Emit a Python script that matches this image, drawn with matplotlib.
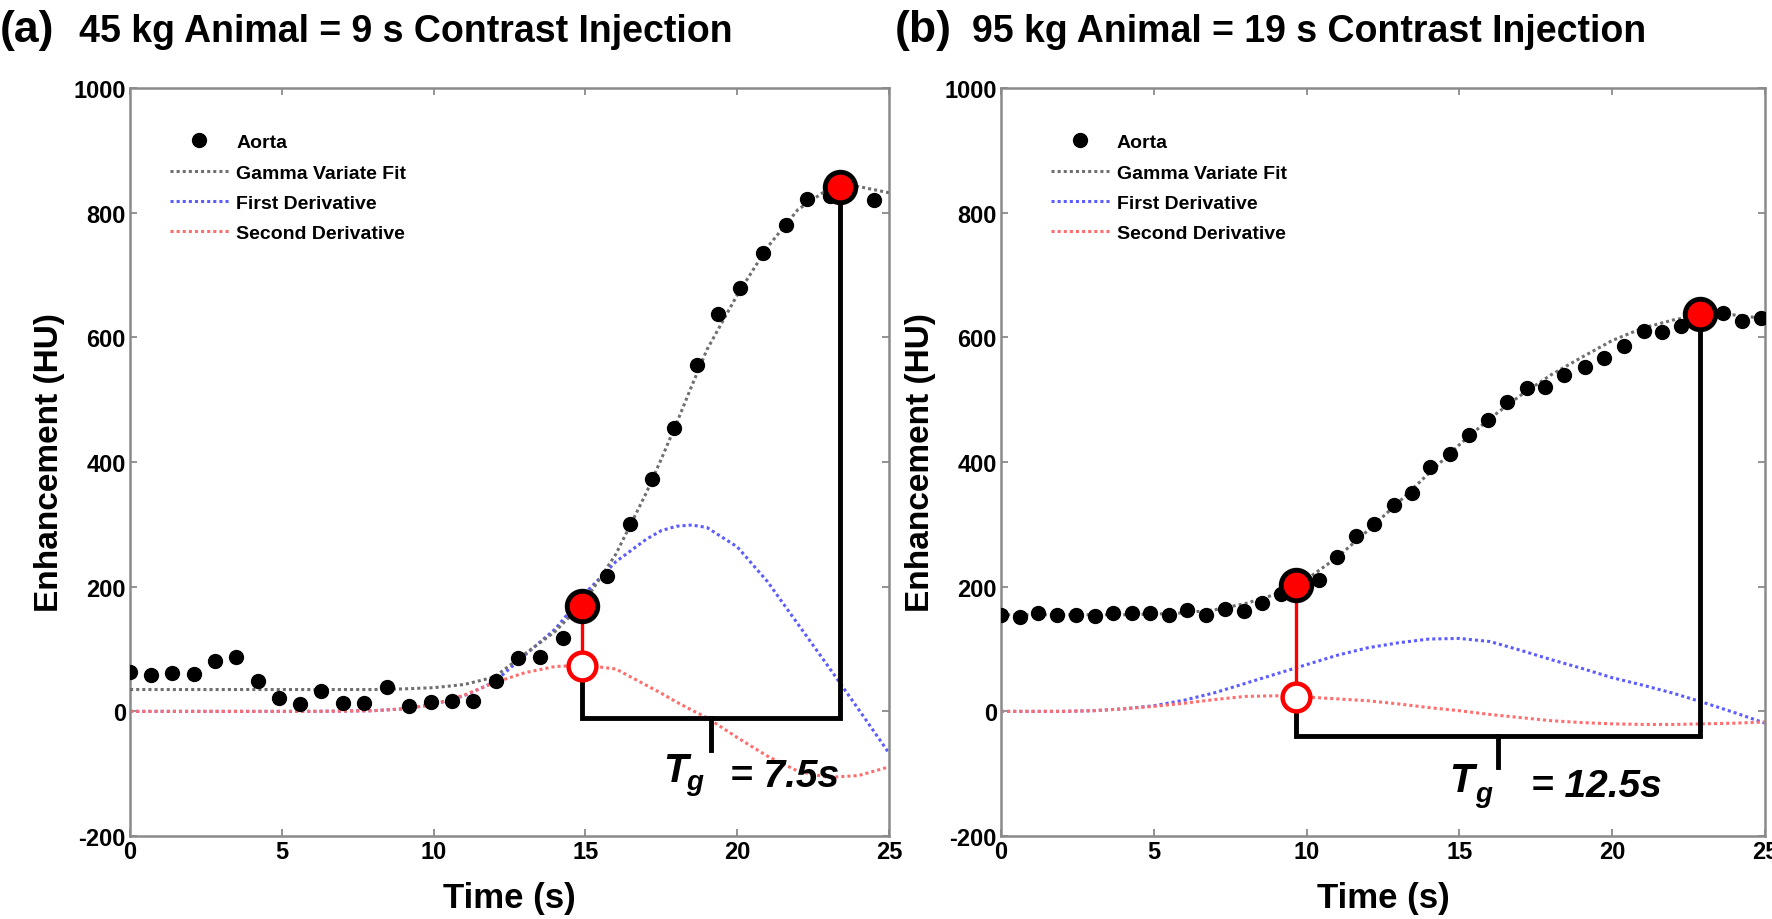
import matplotlib
matplotlib.use('Agg')

import matplotlib.pyplot as plt

plt.rcParams['font.family'] = ['Liberation Sans', 'DejaVu Sans']
plt.rcParams['font.weight'] = 'bold'
plt.rcParams['axes.unicode_minus'] = False

# ---- panel (a): 45 kg animal ----
a_time = [0, 0.68, 1.37, 2.09, 2.8, 3.49, 4.2, 4.9, 5.6, 6.3, 7.0, 7.7, 8.45, 9.2, 9.9, 10.6, 11.3,
          12.06, 12.77, 13.5, 14.25, 15.72, 16.47, 17.18, 17.92, 18.66, 19.38, 20.1, 20.86, 21.6,
          22.3, 23.06, 24.5]
a_aorta = [63, 58, 61, 60, 80, 88, 48, 21, 12, 32, 14, 14, 39, 8, 15, 17, 17,
           48, 85, 87, 118, 217, 301, 372, 455, 555, 637, 680, 735, 781,
           822, 827, 820]
a_curve_t = [0, 2, 4, 6, 8, 9, 10, 11, 12, 13, 14, 15, 16, 17, 17.5, 18, 18.5, 19, 20, 21, 22, 23,
             24, 25]
a_fit = [35, 35, 35, 35, 35, 36, 38, 43, 55, 92, 128, 178, 252, 350, 405, 462, 522, 580, 668, 745,
         805, 838, 842, 832]
a_d1 = [0, 0, 0, 0, 1, 4, 11, 25, 47, 90, 132, 190, 240, 276, 290, 297, 299, 295, 264, 208, 140, 72,
        3, -67]
a_d2 = [0, 0, 0, 0, 1, 4, 11, 26, 46, 62, 72, 74, 68, 42, 29, 15, 2, -10, -42, -72, -96, -106,
        -103, -89]
a_start = (14.9, 169)      # inflection point on the fit
a_start_d2 = 73            # max of second derivative
a_peak = (23.4, 842)
a_bracket = (-10, -62)     # bracket line, centre tick end
a_tg = '= 7.5s'
a_tg_pos = [(17.56, -112), (18.33, -125), (19.76, -119)]

# ---- panel (b): 95 kg animal ----
b_time = [0.01, 0.61, 1.21, 1.83, 2.45, 3.07, 3.67, 4.27, 4.87, 5.49, 6.1, 6.72, 7.32, 7.94, 8.55,
          9.17, 10.4, 11.0, 11.63, 12.22, 12.86, 13.46, 14.05, 14.68, 15.31, 15.94, 16.54, 17.21,
          17.81, 18.42, 19.12, 19.73, 20.39, 21.03, 21.64, 22.26, 23.61, 24.23, 24.88]
b_aorta = [154, 152, 158, 154, 155, 153, 158, 157, 158, 154, 163, 154, 165, 161, 174,
           188, 211, 248, 281, 301, 331, 351, 392, 413, 443, 467, 497, 519,
           520, 540, 553, 567, 586, 610, 608, 619, 639, 627, 631]
b_curve_t = list(range(0, 26))
b_fit = [155, 155, 155, 155, 155, 156, 158, 163, 173, 188, 212, 247, 290, 335, 382, 428, 470, 507,
         540, 568, 595, 615, 628, 637, 636, 630]
b_d1 = [0, 0, 0, 1, 4, 9, 18, 30, 45, 60, 75, 90, 102, 110, 116, 117, 112, 98, 83, 69, 54, 42, 29,
        14, -2, -19]
b_d2 = [0, 0, 0, 1, 4, 8, 13, 19, 24, 25, 23, 20, 17, 12, 6, 1, -5, -10, -15, -18, -20, -21, -21,
        -20, -19, -17]
b_start = (9.64, 203)
b_start_d2 = 23
b_peak = (22.86, 638)
b_bracket = (-40, -89)
b_tg = '= 12.5s'
b_tg_pos = [(14.67, -128), (15.5, -144), (17.33, -135)]

x_ticks = [0, 5, 10, 15, 20, 25]
y_ticks = [-200, 0, 200, 400, 600, 800, 1000]
legend_labels = ['Aorta', 'Gamma Variate Fit', 'First Derivative', 'Second Derivative']

DOT = (0, (1, 1))


def draw_panel(ax, t, aorta, ct, fit, d1, d2, start, start_d2, peak, bracket, tg, tg_pos, leg_x):
    h_pts, = ax.plot(t, aorta, 'o', color='black', ms=10, zorder=5)
    h_fit, = ax.plot(ct, fit, color='#707070', lw=2.2, linestyle=DOT, zorder=3)
    h_d1, = ax.plot(ct, d1, color='#5c5cff', lw=2.2, linestyle=DOT, zorder=2)
    h_d2, = ax.plot(ct, d2, color='#ff6e6e', lw=2.2, linestyle=DOT, zorder=2)

    # bracket showing Tg
    y_b, y_tick = bracket
    ax.plot([start[0], start[0]], [start[1], start_d2], color='red', lw=2.4, zorder=6)
    ax.plot([start[0], start[0], peak[0], peak[0]], [start_d2, y_b, y_b, peak[1]],
            color='black', lw=3.5, solid_joinstyle='miter', zorder=6)
    mid = (start[0] + peak[0]) / 2
    ax.plot([mid, mid], [y_b, y_tick], color='black', lw=3.5, zorder=6)
    ax.plot(start[0], start_d2, 'o', ms=20, mfc='white', mec='red', mew=3.2, zorder=7)
    ax.plot(*start, 'o', ms=22, mfc='red', mec='black', mew=3.5, zorder=8)
    ax.plot(*peak, 'o', ms=22, mfc='red', mec='black', mew=3.5, zorder=8)

    ax.text(*tg_pos[0], 'T', fontsize=29, fontweight='bold', style='italic', va='baseline')
    ax.text(*tg_pos[1], 'g', fontsize=20, fontweight='bold', style='italic', va='baseline')
    ax.text(*tg_pos[2], tg, fontsize=28, fontweight='bold', style='italic', va='baseline')

    ax.set_xlim(0, 25)
    ax.set_ylim(-200, 1000)
    ax.set_xticks(x_ticks)
    ax.set_yticks(y_ticks)
    ax.tick_params(direction='in', top=True, right=True, length=5, width=1.2, color='#808080',
                   labelsize=17, pad=3)
    for lab in ax.get_xticklabels() + ax.get_yticklabels():
        lab.set_fontweight('bold')
    for sp in ax.spines.values():
        sp.set_color('#8a8a8a')
        sp.set_linewidth(1.8)
    ax.set_xlabel('Time (s)', fontsize=25, fontweight='bold', labelpad=13)
    ax.set_ylabel('Enhancement (HU)', fontsize=24, fontweight='bold', labelpad=6)

    ax.legend([h_pts, h_fit, h_d1, h_d2], legend_labels, loc='upper left',
              bbox_to_anchor=(leg_x, 0.939), frameon=False, borderaxespad=0, borderpad=0,
              handlelength=3.0, handletextpad=0.4, labelspacing=0.65,
              prop={'weight': 'bold', 'size': 14})


fig = plt.figure(figsize=(17.72, 9.2), dpi=100)
ax1 = fig.add_axes([0.0734, 0.0902, 0.4283, 0.8130])
ax2 = fig.add_axes([0.5649, 0.0902, 0.4312, 0.8130])

draw_panel(ax1, a_time, a_aorta, a_curve_t, a_fit, a_d1, a_d2, a_start, a_start_d2, a_peak,
           a_bracket, a_tg, a_tg_pos, 0.053)
draw_panel(ax2, b_time, b_aorta, b_curve_t, b_fit, b_d1, b_d2, b_start, b_start_d2, b_peak,
           b_bracket, b_tg, b_tg_pos, 0.065)

# panel titles
fig.text(0.0, 0.954, '(a)', fontsize=32, fontweight='bold', va='baseline')
fig.text(0.0446, 0.954, '45 kg Animal = 9 s Contrast Injection', fontsize=27, fontweight='bold',
         va='baseline')
fig.text(0.505, 0.954, '(b)', fontsize=32, fontweight='bold', va='baseline')
fig.text(0.5485, 0.954, '95 kg Animal = 19 s Contrast Injection', fontsize=27, fontweight='bold',
         va='baseline')

fig.savefig('out.png', dpi=100)
